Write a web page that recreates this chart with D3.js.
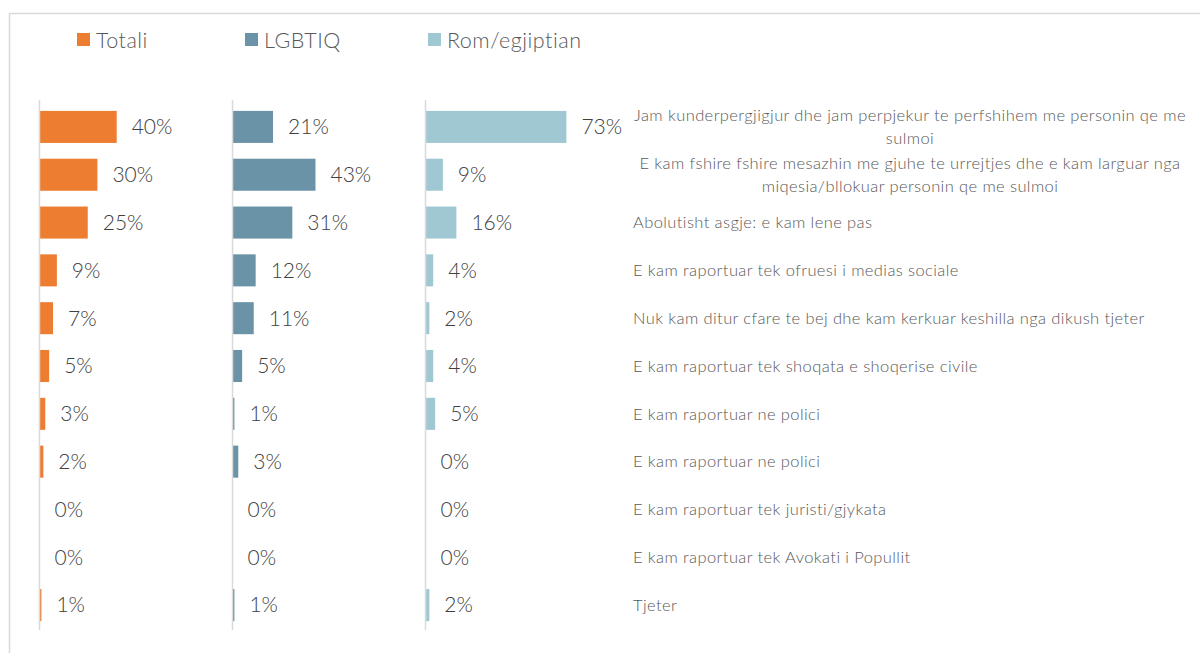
<!DOCTYPE html>
<html>
<head>
<meta charset="utf-8">
<script src="https://cdn.jsdelivr.net/npm/d3@7"></script>
<style>
  html, body { margin: 0; padding: 0; background: #ffffff; }
  svg { display: block; font-family: Lato, "Open Sans", sans-serif; }
</style>
</head>
<body>
<svg id="chart" width="1200" height="653"></svg>
<script>
// Responses to online hate speech, by group (%)
const categories = [
  ["Jam kunderpergjigjur dhe jam perpjekur te perfshihem me personin qe me", "sulmoi"],
  ["E kam fshire fshire mesazhin me gjuhe te urrejtjes dhe e kam larguar nga", "miqesia/bllokuar personin qe me sulmoi"],
  ["Abolutisht asgje: e kam lene pas"],
  ["E kam raportuar tek ofruesi i medias sociale"],
  ["Nuk kam ditur cfare te bej dhe kam kerkuar keshilla nga dikush tjeter"],
  ["E kam raportuar tek shoqata e shoqerise civile"],
  ["E kam raportuar ne polici"],
  ["E kam raportuar ne polici"],
  ["E kam raportuar tek juristi/gjykata"],
  ["E kam raportuar tek Avokati i Popullit"],
  ["Tjeter"]
];
const seriesNames = ["Totali", "LGBTIQ", "Rom/egjiptian"];
const totali = [40, 30, 25, 9, 7, 5, 3, 2, 0, 0, 1];
const lgbtiq = [21, 43, 31, 12, 11, 5, 1, 3, 0, 0, 1];
const romEgjiptian = [73, 9, 16, 4, 2, 4, 5, 0, 0, 0, 2];
const seriesColors = ["#ED7D31", "#6A93A8", "#A0C8D2"];

const svg = d3.select("#chart");

// outer chart frame
svg.append("rect")
  .attr("x", 9.5).attr("y", 13.5)
  .attr("width", 1200).attr("height", 660)
  .attr("fill", "none").attr("stroke", "#D9D9D9").attr("stroke-width", 1.5);

// legend
const legendX = [77, 245, 428];
const legend = svg.append("g");
seriesNames.forEach((name, i) => {
  const g = legend.append("g").attr("transform", `translate(${legendX[i]},33)`);
  g.append("rect").attr("width", 13).attr("height", 13).attr("fill", seriesColors[i]);
  g.append("text").attr("x", 19).attr("y", 14.5)
    .attr("font-size", 21.5).attr("font-weight", 300)
    .attr("letter-spacing", 0.5)
    .attr("fill", "#595959").text(name);
});

// shared row scale
const rows = d3.range(categories.length);
const y = d3.scaleBand().domain(rows).range([103, 629])
  .paddingInner(0.33).paddingOuter(0.165);

// one horizontal bar panel per series
const panels = [
  { values: totali, x0: 39.5 },
  { values: lgbtiq, x0: 232.5 },
  { values: romEgjiptian, x0: 425.5 }
];

panels.forEach((p, si) => {
  const x = d3.scaleLinear().domain([0, 100]).range([p.x0, p.x0 + 193]);
  const g = svg.append("g");
  g.selectAll("rect.bar").data(p.values).join("rect")
    .attr("class", "bar")
    .attr("x", x(0))
    .attr("y", (d, i) => y(i))
    .attr("width", d => x(d) - x(0))
    .attr("height", y.bandwidth())
    .attr("fill", seriesColors[si]);
  g.append("line")
    .attr("x1", x(0)).attr("x2", x(0))
    .attr("y1", 100).attr("y2", 630)
    .attr("stroke", "#D9D9D9").attr("stroke-width", 1.5);
  g.selectAll("text.val").data(p.values).join("text")
    .attr("class", "val")
    .attr("x", d => x(d) + 15)
    .attr("y", (d, i) => y(i) + y.bandwidth() / 2)
    .attr("dy", "0.35em")
    .attr("font-size", 21).attr("font-weight", 300)
    .attr("fill", "#404040")
    .text(d => d + "%");
});

// category labels to the right of the last panel
const labels = svg.append("g")
  .attr("font-size", 16.5).attr("font-weight", 300)
  .attr("letter-spacing", 0.4).attr("fill", "#595959");
categories.forEach((lines, i) => {
  const cy = y(i) + y.bandwidth() / 2;
  if (lines.length === 1) {
    labels.append("text")
      .attr("x", 633).attr("y", cy).attr("dy", "0.35em")
      .text(lines[0]);
  } else {
    lines.forEach((t, k) => {
      labels.append("text")
        .attr("x", 910).attr("y", cy + (k - 0.5) * 23).attr("dy", "0.35em")
        .attr("text-anchor", "middle")
        .text(t);
    });
  }
});
</script>
</body>
</html>
